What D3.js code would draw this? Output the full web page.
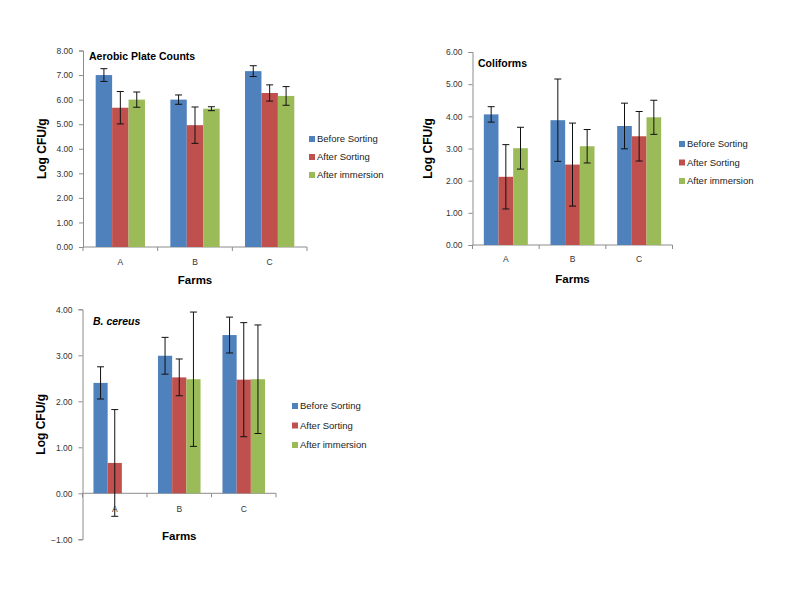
<!DOCTYPE html>
<html>
<head>
<meta charset="utf-8">
<script src="https://cdn.jsdelivr.net/npm/d3@7"></script>
<style>
  body { margin: 0; background: #fff; }
  svg { display: block; }
  text { font-family: "Liberation Sans", Arial, sans-serif; }
</style>
</head>
<body>
<svg id="chart" width="787" height="593"></svg>
<script>
// ---- Data ----
const farms = ["A", "B", "C"];
const seriesNames = ["Before Sorting", "After Sorting", "After immersion"];
const seriesColors = ["#4F81BD", "#C0504D", "#9BBB59"];

// Aerobic Plate Counts
const apcBefore = [7.00, 6.00, 7.16];
const apcAfterSort = [5.67, 4.96, 6.27];
const apcAfterImm = [6.00, 5.63, 6.15];
const apcErrBefore = [0.26, 0.19, 0.22];
const apcErrAfterSort = [0.66, 0.74, 0.33];
const apcErrAfterImm = [0.31, 0.08, 0.38];
const apcTicks = [0, 1, 2, 3, 4, 5, 6, 7, 8];

// Coliforms
const colBefore = [4.06, 3.88, 3.70];
const colAfterSort = [2.12, 2.50, 3.38];
const colAfterImm = [3.01, 3.07, 3.97];
const colErrBefore = [0.24, 1.28, 0.71];
const colErrAfterSort = [1.00, 1.29, 0.77];
const colErrAfterImm = [0.65, 0.52, 0.53];
const colTicks = [0, 1, 2, 3, 4, 5, 6];

// B. cereus
const bcBefore = [2.40, 2.99, 3.44];
const bcAfterSort = [0.66, 2.52, 2.47];
const bcAfterImm = [null, 2.48, 2.48];
const bcErrBefore = [0.35, 0.40, 0.39];
const bcErrAfterSort = [1.16, 0.40, 1.24];
const bcErrAfterImm = [null, 1.46, 1.18];
const bcTicks = [-1, 0, 1, 2, 3, 4];

const svg = d3.select("#chart");
const fmt = d3.format(".2f");
const axisColor = "#8c8c8c";

function drawPanel(p) {
  const g = svg.append("g");
  const x = d3.scaleBand().domain(farms).range([p.x0, p.x1]).paddingInner(0).paddingOuter(0);
  const y = d3.scaleLinear().domain(p.domain).range([p.yBottom, p.yTop]);
  const bw = x.bandwidth() * 0.22;
  const groupW = bw * 3;
  const off = (x.bandwidth() - groupW) / 2;

  // y axis
  const yAxis = d3.axisLeft(y).tickValues(p.ticks).tickFormat(fmt).tickSize(4).tickPadding(6);
  const ya = g.append("g").attr("transform", `translate(${p.x0},0)`).call(yAxis);
  ya.select(".domain").attr("stroke", axisColor);
  ya.selectAll(".tick line").attr("stroke", axisColor);
  ya.selectAll(".tick text").attr("fill", "#333").style("font-size", "8.5px");

  // x axis at zero line
  const y0 = y(0);
  g.append("line").attr("x1", p.x0).attr("x2", p.x1).attr("y1", y0).attr("y2", y0).attr("stroke", axisColor);
  const bounds = [p.x0].concat(farms.map(f => x(f) + x.bandwidth()));
  g.selectAll(".xtick").data(bounds).enter().append("line")
    .attr("x1", d => d).attr("x2", d => d).attr("y1", y0).attr("y2", y0 + 4).attr("stroke", axisColor);
  g.selectAll(".xlab").data(farms).enter().append("text")
    .attr("x", d => x(d) + x.bandwidth() / 2).attr("y", y0 + p.xLabOff)
    .attr("text-anchor", "middle").attr("fill", "#333").style("font-size", "8.5px").text(d => d);

  // bars
  p.values.forEach((vals, si) => {
    vals.forEach((v, fi) => {
      if (v === null) return;
      const bx = x(farms[fi]) + off + si * bw;
      g.append("rect")
        .attr("x", bx).attr("width", bw)
        .attr("y", Math.min(y(v), y0)).attr("height", Math.abs(y0 - y(v)))
        .attr("fill", seriesColors[si]);
    });
  });
  // error bars
  p.values.forEach((vals, si) => {
    vals.forEach((v, fi) => {
      const e = p.errors[si][fi];
      if (v === null || e === null) return;
      const cx = x(farms[fi]) + off + si * bw + bw / 2;
      const yt = y(v + e), yb = y(v - e);
      g.append("line").attr("x1", cx).attr("x2", cx).attr("y1", yt).attr("y2", yb).attr("stroke", "#111").attr("stroke-width", 1);
      [yt, yb].forEach(yy => g.append("line").attr("x1", cx - 3.5).attr("x2", cx + 3.5).attr("y1", yy).attr("y2", yy).attr("stroke", "#111").attr("stroke-width", 1));
    });
  });

  // title inside plot
  g.append("text").attr("x", p.titleX).attr("y", p.titleY)
    .style("font-size", "10.5px").style("font-weight", "bold")
    .style("font-style", p.titleItalic ? "italic" : "normal")
    .attr("fill", "#000").text(p.title);

  // y axis title
  g.append("text")
    .attr("transform", `translate(${p.yTitleX},${(p.yTop + p.yBottom) / 2}) rotate(-90)`)
    .attr("text-anchor", "middle").style("font-size", "12px").style("font-weight", "bold")
    .attr("fill", "#000").text("Log CFU/g");

  // x axis title
  g.append("text").attr("x", (p.x0 + p.x1) / 2).attr("y", p.xTitleY)
    .attr("text-anchor", "middle").style("font-size", "11.5px").style("font-weight", "bold")
    .attr("fill", "#000").text("Farms");

  // legend
  seriesNames.forEach((name, i) => {
    const ly = p.legY + i * p.legGap;
    g.append("rect").attr("x", p.legX).attr("y", ly - 3).attr("width", 6).attr("height", 6).attr("fill", seriesColors[i]);
    g.append("text").attr("x", p.legX + 8).attr("y", ly + 3.4)
      .style("font-size", "9.5px").attr("fill", "#222").text(name);
  });
}

drawPanel({
  x0: 83, x1: 307, yBottom: 247, yTop: 50.5, domain: [0, 8], ticks: apcTicks,
  values: [apcBefore, apcAfterSort, apcAfterImm],
  errors: [apcErrBefore, apcErrAfterSort, apcErrAfterImm],
  title: "Aerobic Plate Counts", titleX: 89, titleY: 60, titleItalic: false,
  yTitleX: 46, xTitleY: 284, xLabOff: 18,
  legX: 309, legY: 139, legGap: 18
});

drawPanel({
  x0: 472.5, x1: 672.5, yBottom: 245, yTop: 52, domain: [0, 6], ticks: colTicks,
  values: [colBefore, colAfterSort, colAfterImm],
  errors: [colErrBefore, colErrAfterSort, colErrAfterImm],
  title: "Coliforms", titleX: 478, titleY: 67, titleItalic: false,
  yTitleX: 432, xTitleY: 283, xLabOff: 17,
  legX: 679, legY: 144, legGap: 18.5
});

drawPanel({
  x0: 82.5, x1: 276, yBottom: 539.3, yTop: 309.3, domain: [-1, 4], ticks: bcTicks,
  values: [bcBefore, bcAfterSort, bcAfterImm],
  errors: [bcErrBefore, bcErrAfterSort, bcErrAfterImm],
  title: "B. cereus", titleX: 93, titleY: 325, titleItalic: true,
  yTitleX: 45, xTitleY: 540, xLabOff: 19,
  legX: 292, legY: 406, legGap: 19.5
});
</script>
</body>
</html>
